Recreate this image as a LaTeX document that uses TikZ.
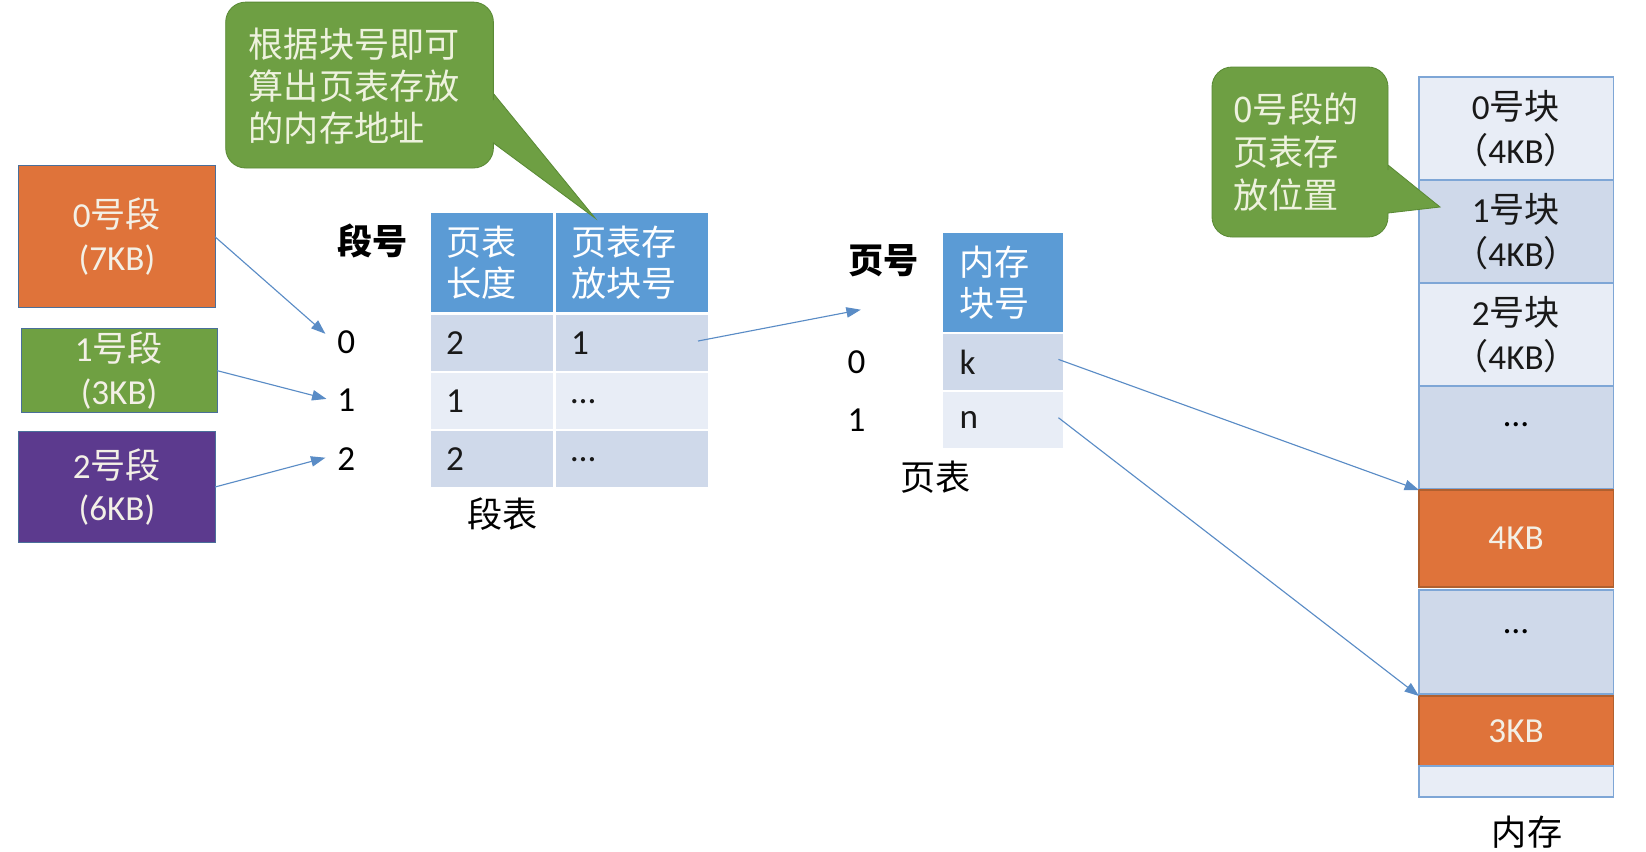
\documentclass[tikz,border=0pt]{standalone}
\usepackage{fontspec}
\setmainfont{Carlito}
\newfontfamily\cjk{Noto Sans CJK SC}
\usetikzlibrary{arrows.meta}
\definecolor{hdrblue}{HTML}{5B9BD5}
\definecolor{rowdark}{HTML}{CFD9EA}
\definecolor{rowlight}{HTML}{E8EDF6}
\definecolor{memborder}{HTML}{7EA6D6}
\definecolor{orng}{HTML}{DF733A}
\definecolor{orngb}{HTML}{B0602F}
\definecolor{sgreen}{HTML}{6FA042}
\definecolor{cgreen}{HTML}{6E9F43}
\definecolor{cgreenb}{HTML}{5A8A35}
\definecolor{purp}{HTML}{5C3A8E}
\definecolor{segborder}{HTML}{4A6F9A}
\definecolor{arrowblue}{HTML}{5A8CC6}
\definecolor{lighttext}{HTML}{F3F0E6}
\definecolor{calltext}{HTML}{EEF2DE}
\begin{document}
\begin{tikzpicture}[x=0.025cm,y=-0.025cm,
  every node/.style={font=\fontsize{25}{29.5}\selectfont, inner sep=0pt, outer sep=0pt},
  segbox/.style={draw=segborder, line width=0.6pt, minimum width=4.9cm, anchor=north west,
    align=center, text=lighttext, font=\fontsize{25}{30.5}\selectfont},
  hdr/.style={fill=hdrblue, text=white, anchor=north west, align=left,
    minimum height=2.475cm, inner xsep=0.375cm, font=\cjk\fontsize{25}{29.5}\selectfont},
  body/.style={anchor=north west, align=left, minimum height=1.4cm, inner xsep=0.375cm, text=black!90},
  memblk/.style={draw=memborder, line width=0.8pt, minimum width=4.85cm, anchor=north west,
    align=center, text=black!90, font=\fontsize{25}{31}\selectfont},
  orblk/.style={memblk, fill=orng, draw=orngb, text=lighttext},
  conn/.style={draw=arrowblue, line width=0.8pt, -{Triangle[length=3.6mm,width=2.6mm]}},
  callout/.style={fill=cgreen, draw=cgreenb, line width=0.6pt},
  lbl/.style={text=black}
]
\fill[white] (0,0) rectangle (1646,851);
\useasboundingbox (0,0) rectangle (1646,851);

% segments
\node[segbox, fill=orng, minimum height=3.54cm] (seg0) at (18.9,165.9) {0{\cjk 号段}\\(7KB)};
\node[segbox, fill=sgreen, minimum height=2.1cm] (seg1) at (21,328.6) {1{\cjk 号段}\\(3KB)};
\node[segbox, fill=purp, minimum height=2.78cm] (seg2) at (18.9,431.4) {2{\cjk 号段}\\(6KB)};

% segment table
\node[lbl] (dh) at (372.6,241.4) {\cjk\bfseries 段号};
\node[hdr, text width=2.3cm] (h1) at (431,213) {页表\\长度};
\node[hdr, text width=3.05cm] (h2) at (556,213) {页表存\\放块号};
\node[body, fill=rowdark, text width=2.3cm] (s00) at (431,315) {2};
\node[body, fill=rowdark, text width=3.05cm] (s01) at (556,315) {1};
\node[body, fill=rowlight, text width=2.3cm] (s10) at (431,373) {1};
\node[body, fill=rowlight, text width=3.05cm] (s11) at (556,373) {\raisebox{-0.15cm}{…}};
\node[body, fill=rowdark, text width=2.3cm] (s20) at (431,431) {2};
\node[body, fill=rowdark, text width=3.05cm] (s21) at (556,431) {\raisebox{-0.15cm}{…}};
\node[lbl] (r0) at (346.4,342) {0};
\node[lbl] (r1) at (346.4,400) {1};
\node[lbl] (r2) at (346.4,458.7) {2};
\node[lbl] (segt) at (502.8,514.4) {\cjk 段表};

\coordinate (a0) at (325.4,333.8);
\coordinate (a1) at (326.5,398.9);
\coordinate (a2) at (325.4,457.7);
\draw[conn] (seg0.east) -- (a0);
\draw[conn] (seg1.east) -- (a1);
\draw[conn] (seg2.east) -- (a2);

% page table
\node[lbl] (ph) at (883.8,260.3) {\cjk\bfseries 页号};
\node[hdr, text width=2.17cm, inner xsep=0.425cm] (ph1) at (942.6,233) {内存\\块号};
\node[body, fill=rowdark, text width=2.17cm, inner xsep=0.425cm, minimum height=1.39cm] (pt0) at (942.6,334) {k};
\node[body, fill=rowlight, text width=2.17cm, inner xsep=0.425cm, minimum height=1.41cm] (pt1) at (942.6,391.5) {n};
\node[lbl] (p0) at (856.6,362) {0};
\node[lbl] (p1) at (856.6,420) {1};
\node[lbl] (pgt) at (935.3,477.6) {\cjk 页表};

\coordinate (pa) at (860.8,309.7);
\draw[conn] ([xshift=-0.25cm,yshift=0.05cm]s01.east) -- (pa);

% memory
\node[memblk, fill=rowlight, minimum height=2.575cm] (m0) at (1419,77) {0{\cjk 号块}\\{\cjk （}4KB{\cjk ）}};
\node[memblk, fill=rowdark, minimum height=2.575cm] (m1) at (1419,180) {1{\cjk 号块}\\{\cjk （}4KB{\cjk ）}};
\node[memblk, fill=rowlight, minimum height=2.575cm] (m2) at (1419,283) {2{\cjk 号块}\\{\cjk （}4KB{\cjk ）}};
\node[memblk, fill=rowdark, minimum height=2.575cm] (md1) at (1419,386) {};
\node[orblk, minimum height=2.425cm] (m4) at (1419,490) {4KB};
\node[memblk, fill=rowdark, minimum height=2.6cm] (md2) at (1419,590) {};
\node[orblk, minimum height=1.75cm] (m3) at (1419,696) {3KB};
\node[memblk, fill=rowlight, minimum height=0.775cm] (mend) at (1419,766) {};
\node[lbl] (dots1) at (1516,425) {…};
\node[lbl] (dots2) at (1516,632) {…};
\node[lbl] (memt) at (1527,832.4) {\cjk 内存};

\draw[conn] ([xshift=-0.125cm,yshift=0.06cm]pt0.east) -- (m4.north west);
\draw[conn] ([xshift=-0.125cm,yshift=0.05cm]pt1.east) -- (m3.north west);

% callout 1
\draw[callout] [rounded corners=0.5cm] (225.7,2.1) -- (493.4,2.1) -- (493.4,80) [sharp corners] -- (493.4,93.5) -- (595,218) -- (493.4,143) -- (493.4,146) [rounded corners=0.5cm] -- (493.4,168) -- (225.7,168) -- cycle;
\node[anchor=west, text=calltext, align=left, font=\cjk\fontsize{25}{29.8}\selectfont] (c1) at (248.8,86) {根据块号即可\\算出页表存放\\的内存地址};

% callout 2
\draw[callout] [rounded corners=0.5cm] (1212,67) -- (1388,67) -- (1388,150) [sharp corners] -- (1388,165) -- (1440,207) -- (1388,213) -- (1388,216) [rounded corners=0.5cm] -- (1388,237) -- (1212,237) -- cycle;
\node[anchor=west, text=calltext, align=left, font=\cjk\fontsize{25}{30.8}\selectfont] (c2) at (1233.4,152.2) {0号段的\\页表存\\放位置};
\end{tikzpicture}
\end{document}
